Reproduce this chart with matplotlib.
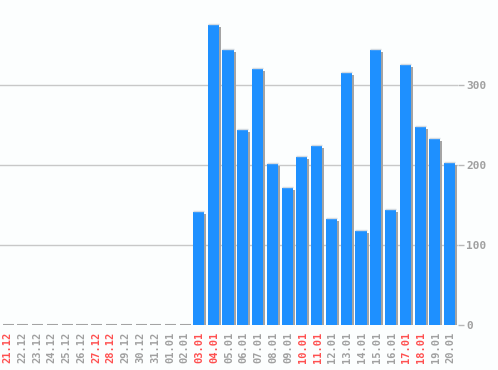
import matplotlib
matplotlib.use("Agg")
import matplotlib.pyplot as plt
import matplotlib.transforms as mtrans
import numpy as np

# data
days = ["21.12", "22.12", "23.12", "24.12", "25.12", "26.12", "27.12", "28.12",
        "29.12", "30.12", "31.12", "01.01", "02.01", "03.01", "04.01", "05.01",
        "06.01", "07.01", "08.01", "09.01", "10.01", "11.01", "12.01", "13.01",
        "14.01", "15.01", "16.01", "17.01", "18.01", "19.01", "20.01"]
counts = [0, 0, 0, 0, 0, 0, 0, 0, 0, 0, 0, 0, 0,
          141, 376, 345, 244, 321, 202, 172, 211, 224, 133,
          315, 118, 345, 144, 325, 248, 233, 203]
red_days = ["21.12", "27.12", "28.12", "03.01", "04.01", "10.01", "11.01",
            "17.01", "18.01"]
y_ticks = [0, 100, 200, 300]

BG = "#fcfefe"
BAR = "#1e90ff"
SHADOW = "#a4a4a4"
GRID = "#c8c8c8"
TXT = "#a0a0a0"
RED = "#ff5050"

plt.rcParams["font.family"] = ["DejaVu Sans Mono"]

fig = plt.figure(figsize=(4.98, 3.70), dpi=100, facecolor=BG)
ax = fig.add_axes([0.0, 45 / 370, 458 / 498, 325 / 370], facecolor=BG)

x = np.arange(len(days))
w = 0.75
shift = -1 / 14.75  # bar sits a pixel left of slot centre

# grid lines
for t in y_ticks[1:]:
    ax.axhline(t, color=GRID, lw=1.0, zorder=0)

# shadow offset 2px right, 2px down
off = mtrans.ScaledTranslation(2 / 100, -2 / 100, fig.dpi_scale_trans)
vals = np.array(counts)
has = vals > 0
ax.bar(x[has] + shift, vals[has], width=w, color=SHADOW, zorder=1,
       transform=ax.transData + off)
ax.bar(x[has] + shift, vals[has], width=w, color=BAR, zorder=2)
# thin light cap on top of each bar
cap = mtrans.ScaledTranslation(0, 1 / 100, fig.dpi_scale_trans)
ax.hlines(vals[has], x[has] + shift - w / 2, x[has] + shift + w / 2,
          color="#d4dbe2", lw=1.0, zorder=3, transform=ax.transData + cap)

# segmented baseline
ax.hlines(np.zeros(len(x)), x + shift - w / 2 + 0.12, x + shift + w / 2 + 0.12,
          color=SHADOW, lw=1.5, zorder=1)

ax.set_xlim(-0.5, len(days) - 0.5)
ax.set_ylim(0, 407)

for s in ax.spines.values():
    s.set_visible(False)

ax.yaxis.tick_right()
ax.set_yticks(y_ticks)
ax.tick_params(axis="y", length=4, width=1.0, color="#b8b8b8", labelcolor=TXT,
               labelsize=8, pad=2)
for lab in ax.get_yticklabels():
    lab.set_fontweight("bold")

ax.set_xticks(x)
ax.set_xticklabels(days, rotation=90, fontsize=7.5, fontweight="bold")
ax.tick_params(axis="x", length=0, pad=5)
for lab in ax.get_xticklabels():
    lab.set_color(RED if lab.get_text() in red_days else TXT)

fig.savefig("out.png", dpi=100, facecolor=BG)
